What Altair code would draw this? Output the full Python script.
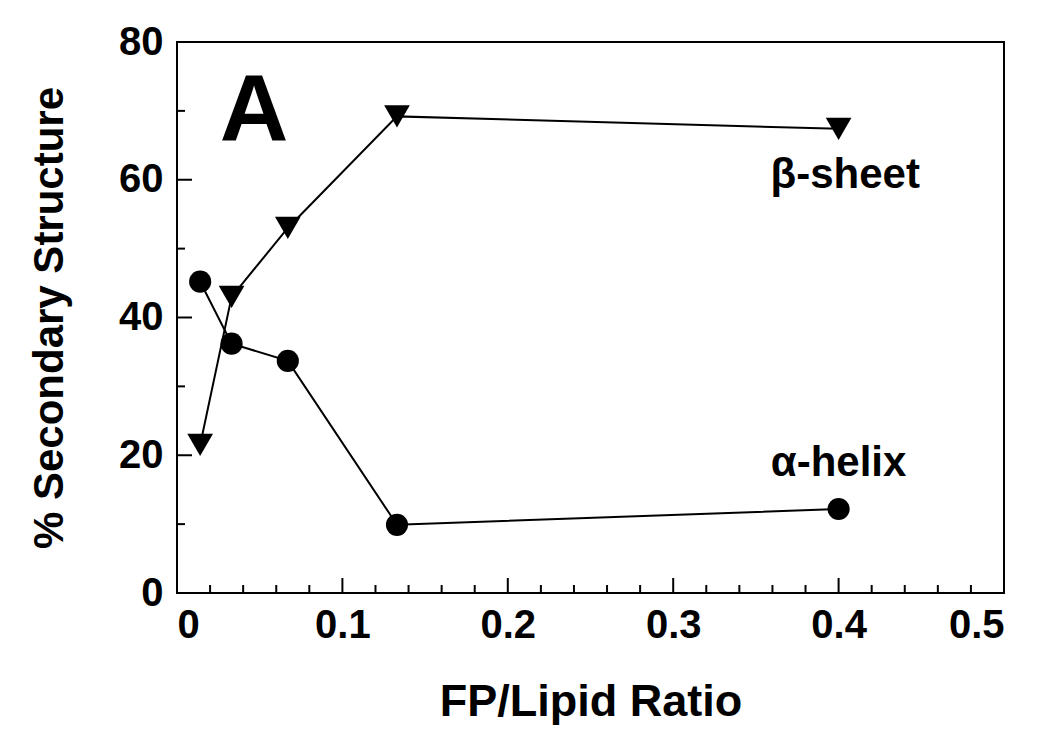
import altair as alt
import pandas as pd

# ---- data ----
ratio = [0.014, 0.033, 0.067, 0.133, 0.40]
beta_sheet = [21.5, 43.0, 53.0, 69.2, 67.4]
alpha_helix = [45.2, 36.2, 33.7, 9.9, 12.2]

x_major = [0, 0.1, 0.2, 0.3, 0.4, 0.5]
x_minor = [0.02, 0.04, 0.06, 0.08, 0.12, 0.14, 0.16, 0.18, 0.22, 0.24, 0.26, 0.28,
           0.32, 0.34, 0.36, 0.38, 0.42, 0.44, 0.46, 0.48]
y_major = [0, 20, 40, 60, 80]
y_minor = [10, 30, 50, 70]

labels_text = ["A", "β-sheet", "α-helix"]
labels_x = [0.0466, 0.404, 0.40]
labels_y = [69.8, 60.7, 18.9]

W, H = 827, 551
FONT = "Liberation Sans"

df = pd.DataFrame({
    "ratio": ratio * 2,
    "value": beta_sheet + alpha_helix,
    "series": ["β-sheet"] * len(ratio) + ["α-helix"] * len(ratio),
})
beta_df = pd.DataFrame({"ratio": ratio, "value": beta_sheet})
alpha_df = pd.DataFrame({"ratio": ratio, "value": alpha_helix})

xs = alt.Scale(domain=[0, 0.5], nice=False, zero=False)
ys = alt.Scale(domain=[0, 80], nice=False)

xaxis = alt.Axis(values=x_major, format=".1~f", ticks=False, domain=False, grid=False,
                 labelFont=FONT, labelFontSize=40, labelFontWeight="bold", labelColor="black",
                 labelPadding=12, title="FP/Lipid Ratio", titleFont=FONT, titleFontSize=45,
                 titleFontWeight="bold", titleColor="black", titlePadding=34)
yaxis = alt.Axis(values=y_major, ticks=False, domain=False, grid=False,
                 labelFont=FONT, labelFontSize=40, labelFontWeight="bold", labelColor="black",
                 labelPadding=14, title="% Secondary Structure", titleFont=FONT, titleFontSize=42,
                 titleFontWeight="bold", titleColor="black", titlePadding=47)

base = alt.Chart(df)
lines = base.mark_line(color="black", strokeWidth=2).encode(
    x=alt.X("ratio:Q", scale=xs, axis=xaxis),
    y=alt.Y("value:Q", scale=ys, axis=yaxis),
    detail="series:N",
)
circles = alt.Chart(alpha_df).mark_point(shape="circle", filled=True, color="black",
                                          opacity=1, size=490).encode(
    x=alt.X("ratio:Q", scale=xs), y=alt.Y("value:Q", scale=ys))
triangles = alt.Chart(beta_df).mark_point(shape="triangle-down", filled=True, color="black",
                                           opacity=1, size=660).encode(
    x=alt.X("ratio:Q", scale=xs), y=alt.Y("value:Q", scale=ys))

def xticks(vals, length):
    return alt.Chart(pd.DataFrame({"t": vals})).mark_rule(color="black", strokeWidth=2).encode(
        x=alt.X("t:Q", scale=xs), y=alt.value(H), y2=alt.value(H - length))

def yticks(vals, length):
    return alt.Chart(pd.DataFrame({"t": vals})).mark_rule(color="black", strokeWidth=2).encode(
        y=alt.Y("t:Q", scale=ys), x=alt.value(0), x2=alt.value(length))

tdf = pd.DataFrame({"text": labels_text, "x": labels_x, "y": labels_y,
                    "size": [95, 42, 42]})
texts = alt.Chart(tdf).mark_text(font=FONT, fontWeight="bold", color="black",
                                 align="center", baseline="middle").encode(
    x=alt.X("x:Q", scale=xs), y=alt.Y("y:Q", scale=ys), text="text:N",
    size=alt.Size("size:Q", scale=None, legend=None))

chart = alt.layer(
    lines, xticks(x_major, 15), xticks(x_minor, 8), yticks(y_major, 15), yticks(y_minor, 8),
    circles, triangles, texts,
).properties(
    width=W, height=H, autosize="none",
    padding={"left": 169, "top": 34, "right": 30, "bottom": 140},
    background="white",
).configure_view(stroke="black", strokeWidth=2)

chart.save("out.html", embed_options={"renderer": "svg", "actions": False})
